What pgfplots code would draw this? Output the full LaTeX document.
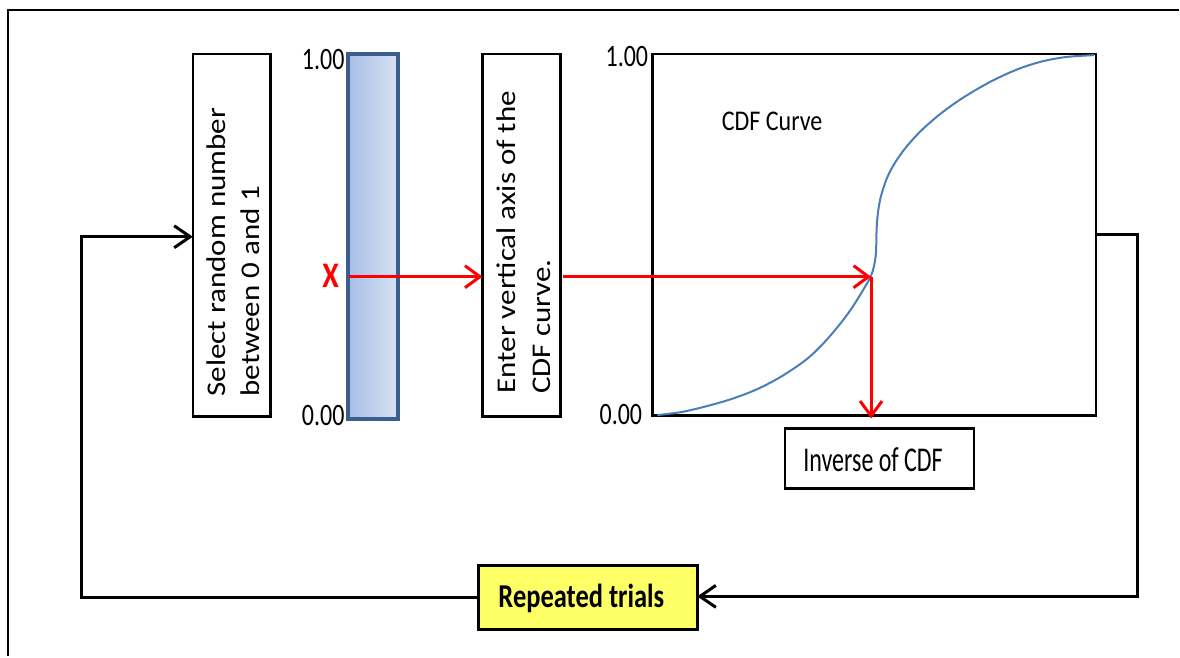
\documentclass[border=0pt]{standalone}
\usepackage{pgfplots}
\pgfplotsset{compat=1.18}
\usepackage{fontspec}
\setmainfont{Carlito}
\usetikzlibrary{arrows.meta}
\definecolor{cdfblue}{HTML}{4A7EBB}
\definecolor{barborder}{HTML}{3B5E8C}
\definecolor{barA}{HTML}{A6BEE7}
\definecolor{barB}{HTML}{D8E1F2}
\definecolor{boxyellow}{HTML}{FFFF66}
\begin{document}
\begin{tikzpicture}
\begin{axis}[hide axis, scale only axis, width=1180pt, height=657pt,
  xmin=0, xmax=1180, ymin=0, ymax=657, y dir=reverse, clip=false]
\path (axis cs:0,0) rectangle (axis cs:1180,657);
% outer frame
\draw[line width=2.5pt] (axis cs:8,657) -- (axis cs:8,10) -- (axis cs:1180,10);
% select box
\draw[line width=2.5pt] (axis cs:193,54) rectangle (axis cs:271,417);
\node[rotate=90, xscale=1.15, font=\fontsize{27}{34}\selectfont, align=left, inner sep=0pt]
  at (axis cs:233.5,252.5) {Select random number\\between 0 and 1};
% bar
\shade[left color=barA, right color=barB] (axis cs:348,54) rectangle (axis cs:398,419);
\draw[line width=4pt, color=barborder] (axis cs:348,54) rectangle (axis cs:398,419);
\node[anchor=east, yscale=1.3, font=\fontsize{24}{28}\selectfont, inner sep=1pt] at (axis cs:346,60) {1.00};
\node[anchor=east, yscale=1.3, font=\fontsize{24}{28}\selectfont, inner sep=1pt] at (axis cs:346,416) {0.00};
\node[text=red, font=\fontsize{30}{32}\selectfont\bfseries, yscale=1.2] at (axis cs:331,276) {X};
% enter box
\draw[line width=2.5pt] (axis cs:483,54) rectangle (axis cs:561,417);
\node[rotate=90, xscale=1.15, font=\fontsize{27}{35}\selectfont, align=left, inner sep=0pt]
  at (axis cs:524,242.5) {Enter vertical axis of the\\CDF curve.};
% CDF box
\draw[line width=2.5pt] (axis cs:653,54) rectangle (axis cs:1097,416);
\node[anchor=east, yscale=1.3, font=\fontsize{24}{28}\selectfont, inner sep=1pt] at (axis cs:650,57) {1.00};
\node[anchor=east, yscale=1.3, font=\fontsize{24}{28}\selectfont, inner sep=1pt] at (axis cs:644,415) {0.00};
\node[yscale=1.19, font=\fontsize{24}{28}\selectfont] at (axis cs:773,121) {CDF Curve};
\addplot[color=cdfblue, line width=2pt, smooth, tension=0.55] coordinates {
(658,415.5) (682,412.5) (707,406.7) (732,399.5) (757,390) (782,377)
(807,360) (824,344) (840,325.5) (853,308) (866,287) (872,276)
(875,266) (876.8,254) (877.3,240) (877.6,228) (879,212) (882,196)
(888,178) (896,162.8) (907,147.4) (922,130.9) (940,115.1) (957,102.5)
(973,92.3) (990,82.6) (1007,74.3) (1023,67.7) (1040,62.3) (1057,58.6)
(1073,56.5) (1095,55.2)
};
% red arrows
\draw[red, line width=3pt, -{Straight Barb[length=15pt,width=22pt,line width=3pt]}] (axis cs:349,277) -- (axis cs:483,277);
\draw[red, line width=3pt, -{Straight Barb[length=15pt,width=22pt,line width=3pt]}] (axis cs:564,277) -- (axis cs:872,277);
\draw[red, line width=3pt, -{Straight Barb[length=15pt,width=22pt,line width=3pt]}] (axis cs:872,277) -- (axis cs:872,419);
% inverse box
\draw[line width=2.5pt] (axis cs:786,429) rectangle (axis cs:975,489);
\node[yscale=1.45, font=\fontsize{24}{28}\selectfont] at (axis cs:874,460) {Inverse of CDF};
% repeated box
\draw[line width=3.5pt, fill=boxyellow] (axis cs:479,566) rectangle (axis cs:698,630);
\node[yscale=1.26, font=\fontsize{26.5}{30}\selectfont\bfseries] at (axis cs:582,599) {Repeated trials};
% loop
\draw[line width=3pt, -{Straight Barb[length=16pt,width=22pt,line width=3pt]}]
  (axis cs:479,598) -- (axis cs:82,598) -- (axis cs:82,237) -- (axis cs:193,237);
\draw[line width=3pt, -{Straight Barb[length=16pt,width=22pt,line width=3pt]}]
  (axis cs:1097,235) -- (axis cs:1139,235) -- (axis cs:1139,597) -- (axis cs:698,597);
\end{axis}
\end{tikzpicture}
\end{document}
